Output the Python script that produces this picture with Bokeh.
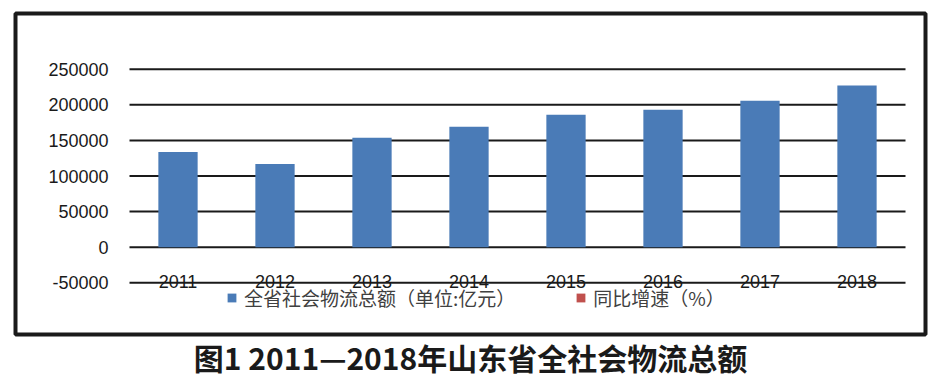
from bokeh.plotting import figure
from bokeh.models import ColumnDataSource, Range1d, Legend, LegendItem
from bokeh.core.properties import value
from bokeh.embed import file_html
from bokeh.resources import INLINE

years = ["2011", "2012", "2013", "2014", "2015", "2016", "2017", "2018"]
total_value = [133800, 116900, 153700, 169100, 186000, 193000, 205600, 227100]
growth_rate = []  # 同比增速 series: appears only in the legend
y_ticks = [-50000, 0, 50000, 100000, 150000, 200000, 250000]
y_tick_labels = ["-50000", "0", "50000", "100000", "150000", "200000", "250000"]
series_names = ["全省社会物流总额（单位:亿元）", "同比增速（%）"]
chart_title = "图1 2011—2018年山东省全社会物流总额"

BLUE = "#4a7bb7"
RED = "#c0504d"
INK = "#1a1a1a"

W, H = 932, 382
PX_PER_CAT = 97.0          # pixels per category slot
PX_PER_UNIT = 35.6 / 50000  # pixels per value unit
LEFT_PX, ZERO_PX = 129.0, 246.7

x_range = Range1d(-LEFT_PX / PX_PER_CAT, (W - LEFT_PX) / PX_PER_CAT)
y_range = Range1d(-(H - ZERO_PX) / PX_PER_UNIT, ZERO_PX / PX_PER_UNIT)

p = figure(width=W, height=H, x_range=x_range, y_range=y_range,
           x_axis_location=None, y_axis_location=None,
           output_backend="svg", toolbar_location=None, min_border=0)
p.outline_line_color = None
p.xgrid.visible = False
p.ygrid.visible = False
p.background_fill_color = "white"
p.border_fill_color = "white"

n = len(years)
centers = [i + 0.5 for i in range(n)]

# y tick labels
p.text(x=[0] * len(y_ticks), y=y_ticks, text=y_tick_labels, x_offset=-21,
       text_align="right", text_baseline="middle",
       text_font=value("Liberation Sans"), text_font_size="18px", text_color=INK)

# category labels sitting on the lowest gridline
p.text(x=centers, y=[y_ticks[0]] * n, text=years, y_offset=-1,
       text_align="center", text_baseline="middle",
       text_font=value("Liberation Sans"), text_font_size="18px", text_color=INK)

# gridlines
p.segment(x0=[0] * len(y_ticks), x1=[n] * len(y_ticks), y0=y_ticks, y1=y_ticks,
          line_color=INK, line_width=2)

src = ColumnDataSource(dict(x=centers, value=total_value))
r1 = p.vbar(x="x", top="value", bottom=0, width=0.405, source=src,
            fill_color=BLUE, line_color=None)

# growth-rate series has no readable values; a single NaN row lets the legend draw its swatch
nan = float("nan")
growth_src = ColumnDataSource(dict(x=[nan], top=[nan]))
r2 = p.vbar(x="x", top="top", bottom=0, width=0.405, source=growth_src,
            fill_color=RED, line_color=None)

# outer frame around the chart
box_l, box_r = (15 - LEFT_PX) / PX_PER_CAT, (925 - LEFT_PX) / PX_PER_CAT
box_t, box_b = (ZERO_PX - 13) / PX_PER_UNIT, -(334 - ZERO_PX) / PX_PER_UNIT
p.quad(left=[box_l], right=[box_r], top=[box_t], bottom=[box_b],
       fill_color=None, line_color=INK, line_width=4)

# figure caption below the frame
p.text(x=[(box_l + box_r) / 2], y=[-(356 - ZERO_PX) / PX_PER_UNIT], text=[chart_title],
       text_align="center", text_baseline="middle",
       text_font=value("Noto Sans CJK SC"), text_font_style="bold",
       text_font_size="30px", text_color=INK)

legend = Legend(items=[LegendItem(label=series_names[0], renderers=[r1]),
                       LegendItem(label=series_names[1], renderers=[r2])],
                location=(226, 71), orientation="horizontal",
                padding=0, margin=0, border_line_color=None,
                background_fill_alpha=0, glyph_width=11, glyph_height=11,
                label_standoff=7, spacing=60, label_height=20,
                label_text_font="Noto Sans CJK SC", label_text_font_size="19px",
                label_text_color="#404040")
p.add_layout(legend, "center")

open("out.html", "w").write(file_html(p, INLINE))
